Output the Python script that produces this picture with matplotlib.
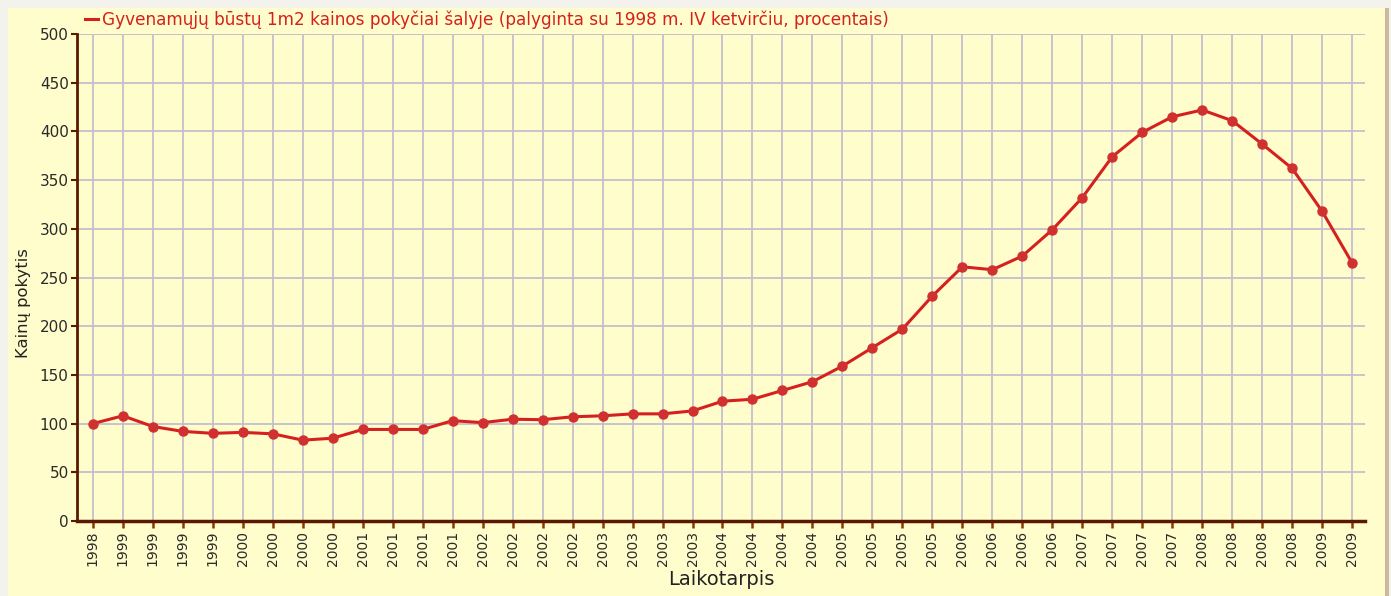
import matplotlib
matplotlib.use("Agg")
import matplotlib.pyplot as plt
from matplotlib.patches import Rectangle

plt.rcParams["font.family"] = ["DejaVu Sans"]

# quarters 1998 IV .. 2009 II
years = ["1998"] + [str(y) for y in range(1999, 2009) for _ in range(4)] + ["2009", "2009"]
values = [100, 108, 97, 92, 90, 91, 89.5, 83, 85, 94, 94, 94,
          103, 101, 104.5, 104, 107, 108, 110, 110, 113, 123, 125, 134, 143,
          159, 178, 197, 231, 261, 258, 272, 299, 332, 374, 399, 415, 422,
          411, 387, 362, 318, 265]
legend_label = "Gyvenamųjų būstų 1m2 kainos pokyčiai šalyje (palyginta su 1998 m. IV ketvirčiu, procentais)"

bg = "#fffdcc"
red = "#d62020"
brown = "#5a1a00"
grid_col = "#c4bfcb"

fig = plt.figure(figsize=(13.91, 5.96), dpi=100)
fig.patch.set_facecolor("#f3f2ec")
fig.patches.append(Rectangle((8 / 1391, 0), (1385 - 8) / 1391, (596 - 8) / 596,
                             transform=fig.transFigure, facecolor=bg,
                             edgecolor="none", zorder=-10))
fig.patches.append(Rectangle((1385 / 1391, 0), 4 / 1391, (596 - 8) / 596,
                             transform=fig.transFigure, facecolor="#cdb99e",
                             edgecolor="none", zorder=-10))

ax = fig.add_axes([77 / 1391, (596 - 521) / 596, (1365 - 77) / 1391, (521 - 34) / 596])
ax.set_facecolor(bg)

x = list(range(len(values)))
ax.plot(x, values, color=red, lw=2.2, label=legend_label, zorder=3)
ax.plot(x, values, color="#d03030", lw=0, marker="o", ms=6.5, zorder=4)

ax.set_xlim(-0.53, 42.43)
ax.set_ylim(0, 500)
ax.set_yticks(range(0, 501, 50))
ax.set_xticks(x)
ax.set_xticklabels(years, rotation=90, fontsize=10, color="#2a2a2a")
ax.tick_params(axis="y", labelsize=11, labelcolor="#2a2a2a", length=4, width=1.5,
               color=brown, pad=2)
ax.tick_params(axis="x", length=5, width=1.8, color="#8a3a00", pad=2)

ax.grid(True, color=grid_col, lw=1.3)
ax.set_axisbelow(True)
ax.axhline(500, color=grid_col, lw=1.3, zorder=0)

for s in ["top", "right"]:
    ax.spines[s].set_visible(False)
ax.spines["left"].set_color(brown)
ax.spines["left"].set_linewidth(2)
ax.spines["bottom"].set_color(brown)
ax.spines["bottom"].set_linewidth(2.5)

ax.set_ylabel("Kainų pokytis", fontsize=11.8, color="#222222")
ax.yaxis.set_label_coords(-0.036, 0.448)
ax.set_xlabel("Laikotarpis", fontsize=14, color="#222222", labelpad=3)

fig.legend(loc="center left", bbox_to_anchor=(85 / 1391, 1 - 20 / 596), frameon=False,
           fontsize=12.2, labelcolor=red, handlelength=0.75, handletextpad=0.25,
           borderaxespad=0, borderpad=0)

fig.savefig("out.png", dpi=100, facecolor=fig.get_facecolor())
